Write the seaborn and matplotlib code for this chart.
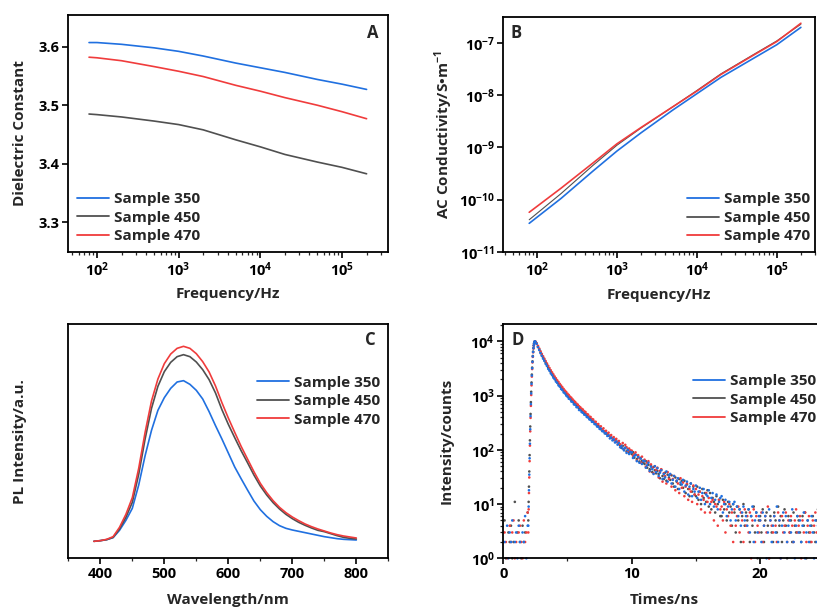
import numpy as np
import pandas as pd
import matplotlib
matplotlib.use('Agg')
import matplotlib.pyplot as plt
from matplotlib.lines import Line2D
from matplotlib.ticker import FuncFormatter, MultipleLocator, NullFormatter, NullLocator, LogLocator
import seaborn as sns

sns.set_theme(style='ticks')
plt.rcParams['font.family'] = ['Open Sans', 'DejaVu Sans']
plt.rcParams['font.weight'] = 'bold'
plt.rcParams['axes.labelweight'] = 'bold'
plt.rcParams['mathtext.fontset'] = 'custom'
plt.rcParams['mathtext.bf'] = 'Open Sans:bold'
plt.rcParams['mathtext.rm'] = 'Open Sans:bold'

SAMPLES = ['Sample 350', 'Sample 450', 'Sample 470']
COLORS = {'Sample 350': '#2070E0', 'Sample 450': '#505050', 'Sample 470': '#F03C3C'}

# --- A: dielectric constant vs frequency
FREQ_A = [80, 100, 200, 500, 1e3, 2e3, 5e3, 1e4, 2e4, 5e4, 1e5, 2e5]
EPS_350 = [3.607, 3.607, 3.604, 3.598, 3.592, 3.584, 3.572, 3.564, 3.556, 3.544, 3.536, 3.527]
EPS_450 = [3.485, 3.484, 3.480, 3.473, 3.467, 3.458, 3.441, 3.429, 3.416, 3.403, 3.394, 3.383]
EPS_470 = [3.582, 3.581, 3.576, 3.566, 3.558, 3.549, 3.534, 3.524, 3.513, 3.500, 3.489, 3.477]

# --- B: AC conductivity vs frequency
FREQ_B = [80, 200, 500, 1e3, 2e3, 5e3, 1e4, 2e4, 5e4, 1e5, 2e5]
SIG_350 = [3.5e-11, 1.05e-10, 3.5e-10, 8.5e-10, 1.9e-9, 5.2e-9, 1.07e-8, 2.2e-8, 5.0e-8, 9.3e-8, 2.0e-7]
SIG_450 = [4.1e-11, 1.3e-10, 4.5e-10, 1.1e-9, 2.35e-9, 6.0e-9, 1.23e-8, 2.57e-8, 5.9e-8, 1.1e-7, 2.3e-7]
SIG_470 = [5.7e-11, 1.65e-10, 5.0e-10, 1.17e-9, 2.4e-9, 6.0e-9, 1.2e-8, 2.5e-8, 5.75e-8, 1.07e-7, 2.4e-7]

# --- C: PL spectra
WAVE = [390, 400, 410, 420, 430, 440, 450, 460, 470, 480, 490, 500, 510, 520, 530, 540,
        550, 560, 570, 580, 590, 600, 610, 620, 630, 640, 650, 660, 670, 680, 690, 700,
        710, 720, 730, 740, 750, 760, 770, 780, 790, 800]
PL_350 = [5100, 5300, 5600, 6200, 8400, 11400, 15000, 22000, 30800, 38400, 44400, 48200,
          51000, 52900, 53300, 52200, 50400, 47800, 44000, 39800, 35800, 31600, 27400, 23900,
          20500, 17200, 14600, 12600, 11000, 9800, 9000, 8500, 8100, 7700, 7300, 6900,
          6500, 6200, 5900, 5700, 5600, 5500]
PL_450 = [5100, 5300, 5600, 6300, 8800, 12300, 16800, 25200, 35800, 45000, 51600, 56000,
          58800, 60500, 61100, 60500, 58900, 56600, 53600, 49600, 44600, 40200, 36200, 32300,
          28700, 25000, 21700, 19000, 16700, 14800, 13200, 11900, 10800, 9900, 9100, 8400,
          8000, 7400, 6800, 6300, 6000, 5800]
PL_470 = [5100, 5300, 5700, 6500, 9300, 13200, 18200, 27000, 37800, 47200, 53800, 58400,
          61300, 63000, 63600, 63000, 61400, 59000, 55900, 51700, 46700, 42100, 37800, 33600,
          29800, 26000, 22500, 19700, 17300, 15300, 13700, 12400, 11300, 10300, 9500, 8800,
          8200, 7600, 7100, 6700, 6400, 6100]

# --- D: time-resolved PL decay (counts per channel)
T_BG = np.round(np.arange(0.1, 1.95, 0.1), 3)        # before the pulse
T_RISE = np.round(np.arange(1.95, 2.49, 0.025), 3)   # rising edge
T_DECAY = np.round(np.arange(2.5, 25.05, 0.1), 3)    # decay

CNT_350 = (
    [2, 0, 4, 1, 3, 2, 5, 0, 2, 3, 1, 4, 2, 0, 3, 2, 6, 1, 4]
    + [4, 9, 18, 35, 70, 130, 240, 420, 700, 1100, 1650, 2350, 3200, 4200, 5300, 6400,
       7500, 8400, 9200, 9700, 10000, 9950]
    + [9800, 9050, 7850, 6950, 6080,
       5420, 4820, 4380, 3870, 3530, 3120, 2880, 2570, 2390, 2150,
       2010, 1820, 1720, 1550, 1470, 1330, 1270, 1150, 1100, 1005,
       960, 880, 860, 780, 765, 690, 680, 615, 610, 545,
       540, 498, 485, 448, 440, 405, 396, 366, 358, 330,
       328, 300, 296, 270, 266, 244, 247, 222, 220, 201,
       203, 181, 184, 163, 168, 150, 156, 137, 143, 125,
       134, 112, 118, 106, 98, 109, 88, 99, 84, 92,
       90, 71, 77, 81, 62, 74, 58, 69, 55, 63,
       62, 47, 52, 58, 41, 49, 44, 36, 50, 39,
       46, 33, 38, 42, 29, 36, 31, 40, 26, 34,
       36, 24, 28, 33, 21, 27, 30, 19, 25, 23,
       28, 17, 22, 26, 15, 21, 24, 14, 19, 17,
       22, 13, 17, 20, 12, 16, 19, 10, 15, 14,
       18, 10, 13, 16, 9, 12, 15, 8, 11, 13,
       14, 7, 10, 12, 6, 9, 11, 5, 8, 10,
       11, 5, 9, 6, 8, 4, 7, 9, 5, 6,
       4, 8, 3, 6, 9, 2, 5, 7, 3, 6,
       5, 2, 7, 4, 6, 1, 3, 8, 5, 2,
       4, 6, 3, 9, 2, 5, 1, 4, 7, 3,
       6, 2, 4, 5, 3, 8, 2, 1, 4, 6,
       3, 5, 2, 4, 7, 1, 3, 5, 2, 4,
       6, 3, 1, 5, 2, 4, 3, 6, 2, 5,
       3]
)
CNT_450 = (
    [5, 1, 0, 3, 2, 4, 1, 2, 11, 0, 3, 5, 2, 1, 4, 2, 3, 0, 7]
    + [5, 11, 21, 40, 80, 150, 270, 460, 760, 1180, 1750, 2450, 3300, 4300, 5400, 6500,
       7600, 8500, 9250, 9750, 10000, 9900]
    + [9900, 9150, 8050, 7150, 6300,
       5600, 5050, 4520, 4080, 3660, 3300, 2990, 2730, 2480, 2280,
       2090, 1930, 1780, 1650, 1520, 1420, 1310, 1225, 1140, 1070,
       1000, 935, 890, 830, 790, 735, 700, 660, 625, 590,
       555, 535, 500, 482, 452, 435, 408, 392, 368, 355,
       335, 322, 300, 292, 275, 262, 240, 241, 222, 218,
       200, 198, 184, 180, 168, 165, 152, 154, 140, 141,
       128, 122, 109, 119, 101, 110, 94, 102, 88, 95,
       84, 91, 72, 81, 68, 76, 61, 71, 63, 58,
       55, 62, 47, 53, 44, 51, 39, 48, 42, 37,
       41, 36, 30, 43, 33, 29, 38, 27, 35, 31,
       28, 34, 24, 21, 31, 26, 19, 29, 23, 27,
       20, 27, 16, 23, 19, 14, 24, 17, 21, 15,
       14, 21, 12, 17, 10, 19, 13, 16, 11, 18,
       9, 16, 8, 13, 11, 7, 14, 10, 12, 6,
       6, 12, 8, 10, 5, 11, 7, 9, 4, 10,
       7, 3, 9, 5, 8, 2, 6, 10, 4, 7,
       5, 8, 2, 6, 4, 9, 3, 7, 1, 5,
       6, 3, 8, 2, 5, 7, 4, 1, 6, 3,
       2, 7, 5, 3, 9, 4, 6, 2, 5, 8,
       4, 1, 6, 3, 5, 2, 7, 4, 3, 6,
       5, 3, 2, 6, 4, 7, 1, 5, 3, 2,
       4, 6, 3, 2, 5, 8, 4, 1, 3, 5,
       4]
)
CNT_470 = (
    [3, 2, 1, 0, 4, 2, 3, 5, 1, 2, 0, 3, 4, 2, 1, 5, 2, 3, 7]
    + [3, 8, 16, 31, 62, 120, 220, 390, 650, 1030, 1550, 2250, 3100, 4100, 5200, 6300,
       7400, 8350, 9150, 9650, 9950, 9950]
    + [9950, 9250, 8300, 7400, 6600,
       5900, 5330, 4820, 4350, 3930, 3560, 3230, 2940, 2690, 2470,
       2260, 2090, 1920, 1790, 1650, 1540, 1430, 1330, 1240, 1170,
       1090, 1030, 960, 915, 855, 805, 765, 715, 685, 640,
       610, 575, 555, 515, 500, 460, 450, 412, 405, 372,
       365, 332, 330, 298, 300, 268, 272, 240, 250, 222,
       225, 200, 208, 180, 188, 165, 172, 150, 160, 138,
       146, 127, 118, 134, 104, 124, 112, 94, 106, 98,
       97, 78, 84, 90, 64, 80, 70, 58, 75, 62,
       66, 49, 58, 62, 40, 54, 47, 37, 50, 43,
       47, 31, 41, 44, 26, 37, 33, 24, 39, 29,
       35, 21, 29, 33, 18, 27, 24, 16, 30, 20,
       25, 14, 21, 24, 12, 19, 17, 11, 22, 15,
       19, 10, 15, 17, 8, 14, 12, 7, 16, 11,
       13, 7, 11, 12, 5, 10, 9, 4, 12, 8,
       9, 5, 11, 3, 8, 6, 10, 4, 7, 2,
       8, 4, 6, 9, 3, 7, 5, 2, 8, 4,
       6, 3, 7, 1, 5, 8, 2, 6, 4, 3,
       5, 7, 2, 4, 6, 3, 9, 1, 5, 4,
       3, 6, 4, 2, 7, 5, 1, 6, 3, 4,
       7, 2, 5, 3, 6, 4, 2, 5, 8, 3,
       4, 6, 1, 5, 3, 7, 2, 4, 6, 3,
       2, 5, 4, 7, 3, 1, 6, 4, 5, 3,
       5]
)


def long_df(x, series, xname, yname):
    frames = []
    for name, vals in series.items():
        frames.append(pd.DataFrame({xname: x, yname: vals, 'sample': name}))
    return pd.concat(frames, ignore_index=True)


def pow10(v, pos):
    if v <= 0:
        return ''
    return r'$\mathbf{10^{%d}}$' % int(round(np.log10(v)))


def style_axis(ax):
    for sp in ax.spines.values():
        sp.set_linewidth(1.3)
        sp.set_color('black')
    ax.tick_params(which='major', direction='out', length=4, width=1.2,
                   labelsize=10.5, colors='black', pad=2)
    ax.tick_params(which='minor', direction='out', length=2.2, width=0.9)
    ax.tick_params(top=False, right=False, which='both')
    for lab in ax.get_xticklabels() + ax.get_yticklabels():
        lab.set_fontweight('bold')


def add_legend(ax, loc, anchor):
    handles = [Line2D([], [], color=COLORS[s], lw=1.3) for s in SAMPLES]
    ax.legend(handles, SAMPLES, loc=loc, bbox_to_anchor=anchor, frameon=False,
              prop={'weight': 'bold', 'size': 11}, handlelength=2.1,
              handletextpad=0.35, labelspacing=0.3, borderaxespad=0, borderpad=0)


fig = plt.figure(figsize=(8.17, 6.08), dpi=100)
axA = fig.add_axes([0.0836, 0.586, 0.3917, 0.3893])
axB = fig.add_axes([0.616, 0.586, 0.3815, 0.3865])
axC = fig.add_axes([0.0836, 0.0817, 0.3917, 0.3854])
axD = fig.add_axes([0.616, 0.0817, 0.393, 0.3854])

# A
dfA = long_df(FREQ_A, {'Sample 350': EPS_350, 'Sample 450': EPS_450, 'Sample 470': EPS_470},
              'freq', 'eps')
sns.lineplot(data=dfA, x='freq', y='eps', hue='sample', palette=COLORS, lw=1.2,
             estimator=None, legend=False, ax=axA)
axA.set_xscale('log')
axA.set_xlim(44.6, 3.69e5)
axA.set_ylim(3.25, 3.654)
axA.set_xticks([1e2, 1e3, 1e4, 1e5])
axA.xaxis.set_major_formatter(FuncFormatter(pow10))
axA.xaxis.set_minor_locator(LogLocator(base=10, subs=np.arange(2, 10)))
axA.xaxis.set_minor_formatter(NullFormatter())
axA.set_yticks([3.3, 3.4, 3.5, 3.6])
axA.set_xlabel('Frequency/Hz', fontsize=11, fontweight='bold')
axA.set_ylabel('Dielectric Constant', fontsize=11, fontweight='bold')
axA.xaxis.set_label_coords(0.5, -0.15)
axA.yaxis.set_label_coords(-0.13, 0.5)
axA.text(0.95, 0.925, 'A', transform=axA.transAxes, ha='center', va='center',
         fontsize=12, fontweight='bold')
add_legend(axA, 'lower left', (0.027, 0.035))

# B
dfB = long_df(FREQ_B, {'Sample 350': SIG_350, 'Sample 450': SIG_450, 'Sample 470': SIG_470},
              'freq', 'sigma')
sns.lineplot(data=dfB, x='freq', y='sigma', hue='sample', palette=COLORS,
             estimator=None, legend=False, ax=axB)
for line, w in zip(axB.get_lines(), [1.2, 0.8, 1.2]):
    line.set_linewidth(w)
axB.set_xscale('log')
axB.set_yscale('log')
axB.set_xlim(37.9, 3.0e5)
axB.set_ylim(1e-11, 3.2e-7)
axB.set_xticks([1e2, 1e3, 1e4, 1e5])
axB.set_yticks([1e-11, 1e-10, 1e-9, 1e-8, 1e-7])
axB.xaxis.set_major_formatter(FuncFormatter(pow10))
axB.yaxis.set_major_formatter(FuncFormatter(pow10))
axB.xaxis.set_minor_locator(LogLocator(base=10, subs=np.arange(2, 10)))
axB.xaxis.set_minor_formatter(NullFormatter())
axB.yaxis.set_minor_locator(NullLocator())
axB.set_xlabel('Frequency/Hz', fontsize=11, fontweight='bold')
axB.set_ylabel('AC Conductivity/S\u2022m$^{\\mathbf{-1}}$', fontsize=11, fontweight='bold')
axB.xaxis.set_label_coords(0.5, -0.153)
axB.yaxis.set_label_coords(-0.155, 0.5)
axB.text(0.04, 0.93, 'B', transform=axB.transAxes, ha='center', va='center',
         fontsize=12, fontweight='bold')
add_legend(axB, 'lower right', (0.985, 0.035))

# C
dfC = long_df(WAVE, {'Sample 350': PL_350, 'Sample 450': PL_450, 'Sample 470': PL_470},
              'wl', 'pl')
sns.lineplot(data=dfC, x='wl', y='pl', hue='sample', palette=COLORS, lw=1.2,
             estimator=None, legend=False, ax=axC)
axC.set_xlim(350, 850)
axC.set_ylim(0, 70300)
axC.xaxis.set_major_locator(MultipleLocator(100))
axC.xaxis.set_minor_locator(MultipleLocator(50))
axC.yaxis.set_major_locator(NullLocator())
axC.set_xlabel('Wavelength/nm', fontsize=11, fontweight='bold')
axC.set_ylabel('PL Intensity/a.u.', fontsize=11, fontweight='bold')
axC.xaxis.set_label_coords(0.5, -0.15)
axC.yaxis.set_label_coords(-0.128, 0.5)
axC.text(0.944, 0.93, 'C', transform=axC.transAxes, ha='center', va='center',
         fontsize=12, fontweight='bold')
add_legend(axC, 'upper right', (0.975, 0.78))

# D
t_all = np.concatenate([T_BG, T_RISE, T_DECAY])
dfD = long_df(t_all, {'Sample 450': CNT_450, 'Sample 470': CNT_470, 'Sample 350': CNT_350},
              'time', 'counts')
dfD = dfD[dfD['counts'] > 0]
sns.scatterplot(data=dfD, x='time', y='counts', hue='sample', palette=COLORS, s=3.5,
                linewidth=0, marker='o', legend=False, ax=axD, clip_on=False)
axD.set_yscale('log')
axD.set_xlim(0, 25)
axD.set_ylim(1, 2.1e4)
axD.xaxis.set_major_locator(MultipleLocator(10))
axD.xaxis.set_minor_locator(MultipleLocator(5))
axD.set_yticks([1, 10, 100, 1e3, 1e4])
axD.yaxis.set_major_formatter(FuncFormatter(pow10))
axD.yaxis.set_minor_locator(LogLocator(base=10, subs=np.arange(2, 10)))
axD.yaxis.set_minor_formatter(NullFormatter())
axD.set_xlabel('Times/ns', fontsize=11, fontweight='bold')
axD.set_ylabel('Intensity/counts', fontsize=11, fontweight='bold')
axD.xaxis.set_label_coords(0.5, -0.15)
axD.yaxis.set_label_coords(-0.156, 0.5)
axD.text(0.044, 0.93, 'D', transform=axD.transAxes, ha='center', va='center',
         fontsize=12, fontweight='bold')
add_legend(axD, 'upper left', (0.59, 0.786))

for ax in (axA, axB, axC, axD):
    style_axis(ax)

fig.savefig('out.png', dpi=100, facecolor='white')
